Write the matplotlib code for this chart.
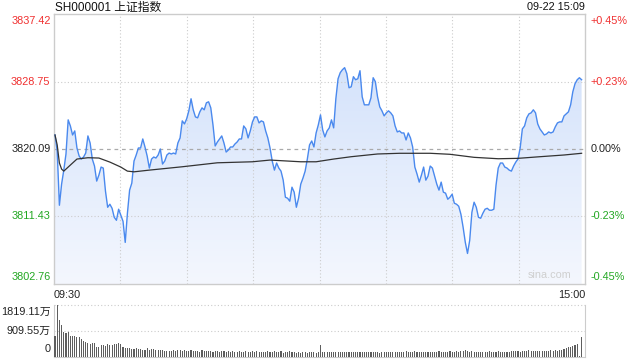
import numpy as np
import matplotlib
matplotlib.use('Agg')
import matplotlib.pyplot as plt
from matplotlib.patches import Polygon
from matplotlib import transforms

plt.rcParams['font.family'] = ['Liberation Sans', 'Noto Sans CJK SC', 'DejaVu Sans']

title = 'SH000001 上证指数'
stamp = '09-22 15:09'
time_labels = ['09:30', '15:00']
prev_close = 3820.09
price_ticks = [3837.42, 3828.75, 3820.09, 3811.43, 3802.76]
price_tick_labels = ['3837.42', '3828.75', '3820.09', '3811.43', '3802.76']
pct_labels = ['+0.45%', '+0.23%', '0.00%', '-0.23%', '-0.45%']
vol_ticks = [1819.11, 909.55, 0]
vol_labels = ['1819.11万', '909.55万', '0']

price = [
    3821.89, 3819.83, 3812.87, 3815.58, 3817.38, 3819.45, 3823.83, 3823.05, 3821.89, 3822.41,
    3820.22, 3819.19, 3818.80, 3819.06, 3819.57, 3821.77, 3820.86, 3818.80, 3817.90, 3815.97,
    3816.74, 3817.77, 3817.64, 3814.68, 3812.61, 3813.00, 3812.48, 3811.32, 3810.94, 3812.36,
    3811.58, 3810.81, 3808.10, 3811.84, 3814.81, 3815.71, 3818.54, 3819.32, 3820.22, 3820.22,
    3821.38, 3820.35, 3819.19, 3817.64, 3818.80, 3819.06, 3818.93, 3819.32, 3820.09, 3818.16,
    3818.54, 3819.32, 3819.57, 3819.45, 3819.57, 3819.45, 3820.86, 3821.51, 3823.70, 3823.31,
    3823.96, 3824.99, 3826.54, 3825.12, 3824.21, 3824.09, 3824.86, 3825.37, 3825.12, 3826.02,
    3826.15, 3825.37, 3823.18, 3820.48, 3820.99, 3821.38, 3821.77, 3820.86, 3819.70, 3819.96,
    3820.35, 3820.35, 3820.73, 3820.99, 3821.38, 3821.38, 3823.05, 3822.67, 3821.51, 3822.41,
    3823.57, 3824.21, 3824.21, 3823.44, 3823.70, 3823.57, 3822.41, 3821.51, 3820.22, 3818.54,
    3817.38, 3818.29, 3817.64, 3817.25, 3816.09, 3813.90, 3813.77, 3813.39, 3815.19, 3814.55,
    3812.61, 3813.77, 3815.58, 3816.35, 3817.25, 3818.80, 3820.61, 3821.12, 3820.35, 3822.15,
    3823.18, 3824.47, 3822.54, 3821.64, 3822.41, 3822.80, 3823.83, 3822.80, 3826.54, 3829.11,
    3829.89, 3830.27, 3830.53, 3829.76, 3827.95, 3828.08, 3829.37, 3828.98, 3829.11, 3830.14,
    3826.79, 3825.76, 3825.76, 3825.76, 3826.66, 3829.24, 3828.73, 3826.79, 3825.50, 3824.99,
    3824.34, 3824.73, 3824.99, 3824.73, 3824.34, 3823.05, 3822.28, 3822.41, 3822.15, 3822.15,
    3821.25, 3822.15, 3821.51, 3820.35, 3817.77, 3816.87, 3815.84, 3816.74, 3817.77, 3816.09,
    3816.61, 3817.90, 3817.64, 3816.61, 3815.58, 3814.81, 3815.84, 3814.55, 3814.42, 3813.64,
    3813.90, 3814.29, 3813.13, 3813.00, 3812.74, 3811.71, 3810.04, 3808.10, 3806.68, 3808.36,
    3811.97, 3813.26, 3812.61, 3811.32, 3811.20, 3811.84, 3812.36, 3812.48, 3812.23, 3812.23,
    3812.36, 3815.45, 3817.64, 3818.29, 3818.29, 3817.77, 3817.64, 3817.38, 3817.25, 3817.90,
    3818.41, 3818.80, 3820.22, 3822.67, 3823.05, 3824.09, 3824.60, 3824.73, 3825.12, 3824.73,
    3823.31, 3822.67, 3822.28, 3821.89, 3822.02, 3822.28, 3822.15, 3822.28, 3822.93, 3823.44,
    3823.57, 3823.57, 3824.34, 3824.60, 3824.86, 3825.76, 3827.44, 3828.47, 3828.98, 3829.24,
    3828.98,
]

avg_minute = [0, 1, 2, 3, 4, 5, 7, 10, 15, 20, 25, 30, 33, 36, 43, 58, 74, 90, 98, 112,
              119, 127, 135, 147, 157, 171, 180, 191, 202, 211, 221, 232, 240]
avg_price = [3821.89, 3820.61, 3818.29, 3817.51, 3817.25, 3817.51, 3818.03, 3818.80, 3818.97,
             3818.93, 3818.41, 3817.77, 3817.25, 3817.16, 3817.38, 3817.81, 3818.32, 3818.45,
             3818.67, 3818.45, 3818.45, 3818.80, 3819.10, 3819.45, 3819.54, 3819.54, 3819.41,
             3819.02, 3818.84, 3818.89, 3819.10, 3819.32, 3819.54]

volume = [
    728, 1819, 1274, 1092, 849, 813, 873, 728, 728, 703, 667, 667, 607, 546, 510, 485, 449, 461, 461, 340,
    315, 388, 388, 364, 425, 400, 400, 425, 437, 461, 425, 340, 291, 291, 291, 279, 279, 303, 279, 279,
    243, 243, 291, 243, 255, 267, 243, 230, 243, 220, 206, 194, 206, 206, 218, 206, 218, 230, 206, 218,
    194, 206, 230, 182, 206, 194, 170, 218, 194, 182, 206, 182, 170, 194, 182, 170, 182, 194, 158, 182,
    170, 182, 158, 170, 182, 170, 170, 182, 158, 158, 182, 170, 182, 170, 146, 170, 158, 182, 146, 158,
    182, 146, 158, 182, 134, 170, 146, 182, 146, 158, 134, 158, 122, 146, 158, 134, 170, 146, 146, 134,
    146, 388,
    158, 158, 170, 158, 146, 170, 146, 158, 170, 146, 170, 158, 158, 146, 170, 158, 158, 170, 146, 158,
    170, 158, 146, 170, 158, 158, 134, 170, 158, 158, 146, 170, 158, 158, 158, 170, 158, 170, 182, 170,
    158, 170, 182, 170, 146, 158, 146, 158, 170, 158, 170, 158, 170, 182, 170, 158, 170, 158, 182, 170,
    158, 182, 170, 206, 194, 218, 182, 158, 194, 158, 146, 158, 146, 158, 170, 158, 182, 170, 158, 158,
    182, 170, 146, 170, 170, 158, 182, 194, 206, 182, 170, 206, 194, 194, 218, 194, 194, 182, 194, 194,
    182, 206, 206, 194, 218, 206, 218, 206, 230, 218, 267, 291, 327, 340, 364, 400, 425, 24, 667,
]

n = len(price)
minutes = np.arange(n)
xlim = (-0.46, 241.55)
ylim = (price_ticks[-1], price_ticks[0])
red, green, dark = '#f03030', '#22a722', '#222222'
label_colors = [red, red, dark, green, green]

fig = plt.figure(figsize=(6.4, 3.6), dpi=100)
fig.patch.set_facecolor('white')
ax = fig.add_axes([54 / 640, 1 - 284 / 360, 531 / 640, 270 / 360])
ax.set_xlim(*xlim)
ax.set_ylim(*ylim)

# gradient fill under the price line
verts = [(minutes[0], ylim[0])] + list(zip(minutes, price)) + [(minutes[-1], ylim[0])]
poly = Polygon(verts, closed=True, facecolor='none', edgecolor='none')
ax.add_patch(poly)
top_c = np.array([205, 222, 250]) / 255
bot_c = np.array([244, 247, 254]) / 255
t = np.linspace(0, 1, 256)[:, None]
grad = (top_c[None, :] * (1 - t) + bot_c[None, :] * t).reshape(256, 1, 3)
im = ax.imshow(grad, extent=[xlim[0], xlim[1], ylim[0], ylim[1]], aspect='auto',
               origin='upper', zorder=1, interpolation='bilinear')
im.set_clip_path(poly)

# grid
for k in range(1, 8):
    xv = xlim[0] + (xlim[1] - xlim[0]) * k / 8
    ax.axvline(xv, color='#cccccc', lw=0.8, ls=(0, (1, 2)), zorder=2)
for v in (price_ticks[1], price_ticks[3]):
    ax.axhline(v, color='#cccccc', lw=0.8, ls=(0, (1, 2)), zorder=2)
ax.axhline(prev_close, color='#aaaaaa', lw=0.9, ls=(0, (3, 3)), zorder=2)

ax.plot(minutes, price, color='#4a89ee', lw=1.0, zorder=4)
ax.plot(avg_minute, avg_price, color='#333333', lw=0.9, zorder=5)

for s in ax.spines.values():
    s.set_color('#cccccc')
    s.set_linewidth(1.0)
ax.set_xticks([])
ax.set_yticks([])

fs = 7.8
trans = transforms.blended_transform_factory(ax.transAxes, ax.transData)
vas = ['top', 'center', 'center', 'center', 'bottom']
offs = [-1.5, 0, 0, 0, 1.5]
for v, lab, pl, c, va, o in zip(price_ticks, price_tick_labels, pct_labels, label_colors, vas, offs):
    ax.annotate(lab, xy=(0, v), xycoords=trans, xytext=(-2.5, o), textcoords='offset points',
                ha='right', va=va, color=c, fontsize=fs)
    ax.annotate(pl, xy=(1, v), xycoords=trans, xytext=(4, o), textcoords='offset points',
                ha='left', va=va, color=c, fontsize=fs)

fig.text(55 / 640, 1 - 7.5 / 360, title, ha='left', va='center', fontsize=8.5, color='#111111')
fig.text(585 / 640, 1 - 7.5 / 360, stamp, ha='right', va='center', fontsize=fs, color='#111111')
ax.text(0.0, -0.022, time_labels[0], transform=ax.transAxes, ha='left', va='top', fontsize=fs, color='#222222')
ax.text(1.0, -0.022, time_labels[1], transform=ax.transAxes, ha='right', va='top', fontsize=fs, color='#222222')
ax.text(0.975, 0.015, 'sina.com', transform=ax.transAxes, ha='right', va='bottom', fontsize=fs, color='#cfcfcf')

# volume panel
vax = fig.add_axes([54 / 640, 1 - 356.5 / 360, 531 / 640, 52 / 360])
vax.set_xlim(*xlim)
vax.set_ylim(0, vol_ticks[0])
vax.bar(minutes, volume, width=0.5, color='#5e5e5e', linewidth=0, zorder=3)
vax.axhline(vol_ticks[1], color='#cccccc', lw=0.8, ls=(0, (1, 2)), zorder=1)
for side in ('left', 'right', 'bottom'):
    vax.spines[side].set_color('#cccccc')
vax.spines['top'].set_visible(False)
vax.axhline(vol_ticks[0], color='#cccccc', lw=0.8, ls=(0, (1, 2)), zorder=1, clip_on=False)
vax.set_xticks([])
vax.set_yticks([])
vtrans = transforms.blended_transform_factory(vax.transAxes, vax.transData)
vvas = ['top', 'center', 'bottom']
voffs = [-1.5, 0, 1.5]
for v, lab, va, o in zip(vol_ticks, vol_labels, vvas, voffs):
    vax.annotate(lab, xy=(0, v), xycoords=vtrans, xytext=(-2.5, o), textcoords='offset points',
                 ha='right', va=va, color='#222222', fontsize=fs)

fig.savefig('out.png', dpi=100)
